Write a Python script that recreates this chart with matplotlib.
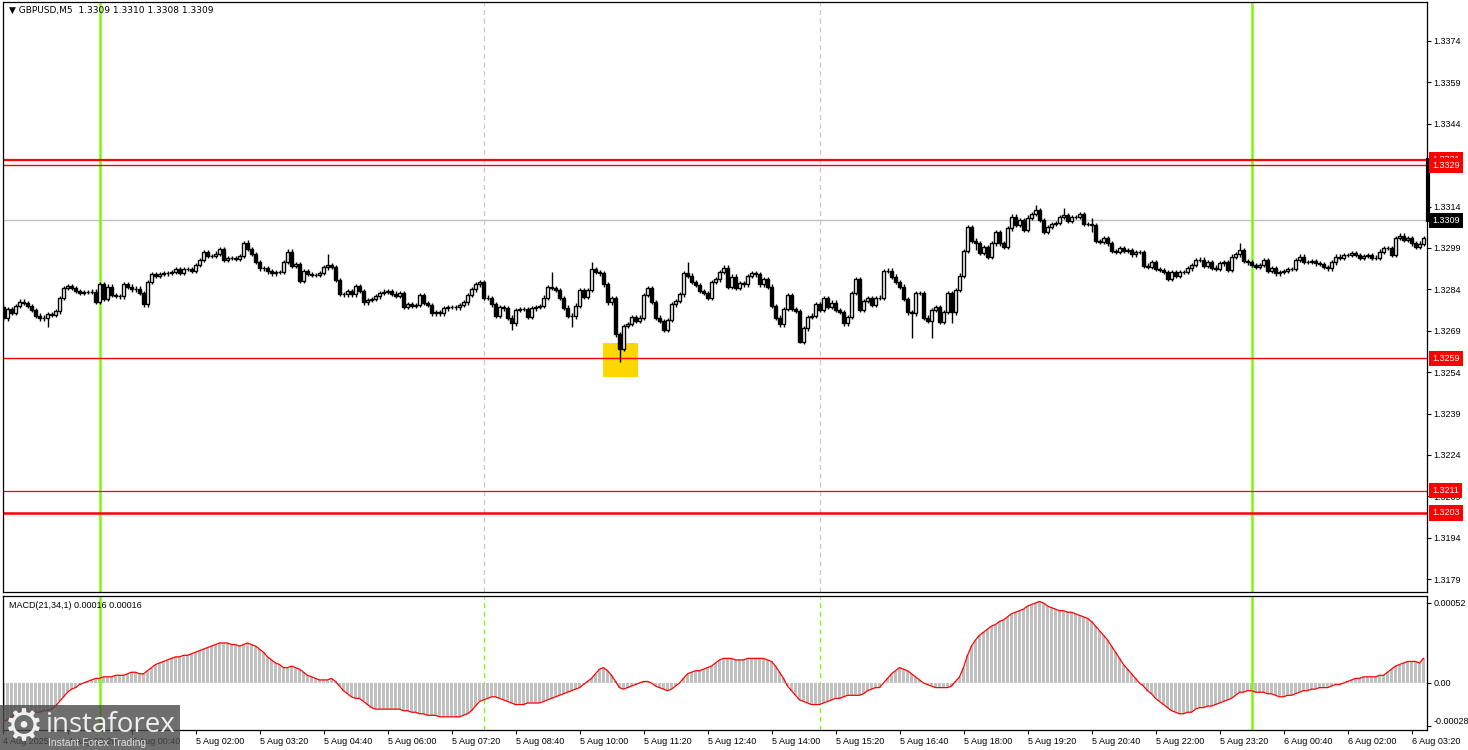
import matplotlib
matplotlib.use('Agg')
import matplotlib.pyplot as plt
import matplotlib.transforms as mtransforms
from matplotlib.patches import Rectangle
import numpy as np

######################
# data (GBPUSD M5, bars from 4 Aug 22:00), prices in pips above 1.3200
first_open = 77.8
close_pips = [
    73.5, 77, 75.5, 78, 79.6, 79, 78, 76.5, 74.5, 73.5, 73.8, 75, 74.8, 76, 80.8, 84.6,
    85.2, 84.5, 83.5, 82.8, 83, 83, 83.2, 79.5, 85.8, 80.5, 85, 82, 81.7, 81.5, 85.8, 85,
    84, 84.3, 82.6, 78.6, 86.6, 89.5, 88.8, 89.5, 89.8, 90, 90.4, 91.3, 90, 91.4, 91.4, 90.6,
    92.8, 94.6, 97.5, 96, 96, 97, 98.6, 94.6, 95.3, 95.3, 95, 96, 100.7, 98.6, 96.8, 94,
    91.6, 91.6, 90.5, 89.8, 90.3, 90.2, 94, 97.7, 92.6, 93.3, 87, 90.6, 89.5, 89.2, 89.2, 90,
    92, 92.8, 92.2, 87.5, 82.3, 82.2, 83.5, 82.2, 85.3, 83.4, 79.3, 80.2, 80.5, 81.5, 82.6, 83.2,
    83.4, 82.5, 81.7, 82.7, 77.7, 78.6, 78.1, 78.3, 82, 79, 78.3, 75.3, 75.9, 75.3, 77.1, 77.7,
    77.7, 77.5, 78.3, 79.3, 82, 84, 85.8, 86.5, 81, 80.8, 78.6, 74.5, 77.7, 77.1, 73.8, 71.7,
    76.5, 76.8, 77, 74.1, 77.1, 77.7, 78, 81, 84.7, 84.6, 83.8, 80.8, 77.4, 74.5, 74.2, 78.1,
    83.8, 81.4, 83.8, 91.4, 90.4, 89.8, 85.8, 79.3, 80.8, 67.7, 62.4, 70.7, 71.5, 74.1, 72.5, 73.8,
    82, 84.6, 79.5, 73.8, 72.5, 69.3, 72.9, 78.6, 79.8, 82.2, 89.8, 89, 86.6, 85.6, 83.5, 82.6,
    80.8, 86.6, 87.6, 90.4, 91.9, 85, 88.6, 84.6, 86.2, 85.8, 88.8, 89.8, 89.4, 85.8, 87.8, 85,
    78, 73.8, 71.3, 76.9, 82, 76.9, 76.2, 65, 69.9, 74.1, 74.5, 78.6, 76.5, 80.8, 77.7, 79.2,
    76.5, 75.9, 71.7, 74.1, 82.6, 87.8, 76.5, 79.8, 80.8, 78.3, 80.8, 81, 90.6, 90.8, 88.6, 86.6,
    85, 80.5, 75.7, 75.3, 82.6, 82.8, 73.8, 72.5, 76.5, 77.7, 72.3, 75.9, 82.6, 75.7, 83.8, 89,
    97.9, 106.5, 101.5, 100.7, 97.1, 99.3, 95.9, 100.7, 104.7, 100.7, 99.5, 106.1, 110.4, 107.3, 109, 105.5,
    110, 111.4, 112.8, 109.1, 104.9, 106.7, 107.6, 108, 110.3, 111, 108.8, 110.3, 110.3, 111.2, 107.6, 107.6,
    107.3, 101.5, 101.3, 102.5, 100.7, 97.9, 97.5, 98.9, 97.9, 98.3, 96.7, 97.5, 97.5, 92.6, 92.2, 93.8,
    91.4, 91, 90.4, 87.8, 90.2, 89, 90.4, 90.4, 91.6, 92.8, 94.6, 94.8, 92.6, 94, 91.9, 91.4,
    93.4, 93.8, 91, 95.9, 96.7, 98.3, 94.3, 93.8, 92.8, 92.2, 92.8, 94.6, 90.6, 91.6, 89.8, 90.4,
    90.6, 91.4, 91.4, 94.6, 95.9, 94, 94, 94.2, 93.4, 93.1, 92.2, 91.6, 93.8, 95.9, 95.4, 96.5,
    96.5, 97.1, 96.5, 95.3, 96.2, 96.5, 95.5, 95.5, 97.7, 98.9, 98.9, 96.5, 102.7, 103.5, 101.9, 102.5,
    100.7, 99.5, 100.6, 102.5,
]
# long shadows (bar: pips)
high_pips = {61: 101.9, 81: 96.7, 137: 90.4, 147: 94.0, 171: 94.0, 243: 102.5,
             258: 114.6, 265: 113.4, 272: 109.7, 309: 100.7}
low_pips = {11: 70.5, 127: 69.3, 142: 70.5, 154: 57.6, 199: 64.5, 227: 66.5,
            232: 66.5, 237: 71.7, 243: 98.3, 272: 104.9}

# MACD(21,34,1) in units of 1e-5
macd_pts = [
    -25, -24, -22, -20, -19, -19, -19, -19, -19, -19, -18, -18, -17, -15, -12, -9,
    -6, -4, -3, -1, 0, 1, 2, 3, 3, 4, 4, 4, 5, 5, 5, 6,
    7, 7, 6, 6, 8, 10, 12, 13, 14, 15, 16, 17, 17, 18, 18, 19,
    20, 21, 22, 23, 24, 25, 26, 26, 26, 25, 25, 24, 25, 26, 25, 24,
    22, 20, 17, 15, 13, 12, 10, 10, 11, 10, 9, 7, 5, 4, 3, 2,
    2, 2, 3, 1, -2, -5, -7, -9, -10, -10, -12, -14, -16, -17, -17, -17,
    -17, -17, -17, -17, -18, -18, -19, -19, -20, -20, -21, -21, -21, -22, -22, -22,
    -22, -22, -22, -21, -20, -18, -15, -12, -11, -10, -9, -9, -10, -11, -12, -13,
    -14, -14, -14, -13, -13, -13, -13, -12, -11, -10, -9, -8, -7, -6, -5, -4,
    -3, -1, 1, 3, 6, 9, 10, 8, 5, 1, -3, -4, -3, -2, -1, 0,
    1, 1, 0, -2, -3, -4, -5, -4, -2, 0, 3, 6, 7, 8, 8, 9,
    10, 11, 13, 15, 16, 16, 16, 15, 15, 15, 16, 16, 16, 16, 16, 15,
    14, 11, 7, 3, -2, -5, -8, -11, -12, -13, -14, -14, -14, -13, -12, -11,
    -10, -10, -9, -8, -8, -8, -8, -7, -5, -4, -3, -3, 0, 3, 6, 8,
    10, 9, 8, 6, 4, 2, 0, -1, -2, -3, -3, -3, -3, -2, 1, 4,
    10, 18, 24, 28, 31, 33, 35, 37, 38, 40, 41, 43, 45, 46, 47, 48,
    50, 51, 52, 53, 52, 50, 49, 48, 47, 47, 46, 46, 45, 44, 43, 42,
    40, 37, 34, 31, 28, 24, 20, 16, 12, 9, 6, 3, 0, -2, -5, -7,
    -10, -12, -14, -16, -18, -19, -20, -20, -19, -19, -17, -16, -16, -15, -15, -14,
    -13, -12, -11, -10, -8, -6, -6, -5, -5, -6, -6, -6, -7, -7, -8, -9,
    -9, -8, -8, -7, -6, -5, -5, -4, -4, -3, -3, -3, -2, -1, -1, 0,
    1, 2, 3, 3, 4, 4, 4, 4, 5, 5, 7, 9, 11, 12, 13, 14,
    14, 14, 13, 16,
]

price_ticks = [1.3179, 1.3194, 1.3209, 1.3224, 1.3239, 1.3254, 1.3269, 1.3284,
               1.3299, 1.3314, 1.3329, 1.3344, 1.3359, 1.3374]
time_labels = ["4 Aug 2025", "4 Aug 23:20", "5 Aug 00:40", "5 Aug 02:00", "5 Aug 03:20",
               "5 Aug 04:40", "5 Aug 06:00", "5 Aug 07:20", "5 Aug 08:40", "5 Aug 10:00",
               "5 Aug 11:20", "5 Aug 12:40", "5 Aug 14:00", "5 Aug 15:20", "5 Aug 16:40",
               "5 Aug 18:00", "5 Aug 19:20", "5 Aug 20:40", "5 Aug 22:00", "5 Aug 23:20",
               "6 Aug 00:40", "6 Aug 02:00", "6 Aug 03:20"]
levels = [1.3331, 1.3329, 1.3259, 1.3211, 1.3203]
bid = 1.3309
day_bars = [24, 312]        # midnight separators
session_bars = [120, 204]   # dashed markers
zone_bars = [149.9, 158.6]  # highlighted area
zone_prices = [1.32523, 1.32646]

######################
n = len(close_pips)
idx = np.arange(n)
c = 1.32 + np.array(close_pips) / 1e4
o = np.concatenate([[1.32 + first_open / 1e4], c[:-1]])
hi = np.maximum(o, c) + 0.00008
lo = np.minimum(o, c) - 0.00008
for k, v in high_pips.items():
    hi[k] = 1.32 + v / 1e4
for k, v in low_pips.items():
    lo[k] = 1.32 + v / 1e4
up = c >= o
macd = np.array(macd_pts) * 1e-5

plt.rcParams['font.family'] = ['Liberation Sans', 'DejaVu Sans']
fs = 6.5
fig = plt.figure(figsize=(14.68, 7.5), dpi=100)
ax = fig.add_axes([3 / 1468, 158 / 750, 1424 / 1468, 590 / 750])
ax2 = fig.add_axes([3 / 1468, 20 / 750, 1424 / 1468, 134 / 750])

xl = (-0.125, 355.875)

#main price panel
ax.set_xlim(xl)
ax.set_ylim(1.317436, 1.338813)
ax.add_patch(Rectangle((zone_bars[0], zone_prices[0]), zone_bars[1] - zone_bars[0],
                       zone_prices[1] - zone_prices[0], facecolor='#FFD700', edgecolor='none', zorder=1))
for b in day_bars:
    ax.axvline(b, color='#7CFC00', lw=1.8, zorder=2)
    ax2.axvline(b, color='#7CFC00', lw=1.8, zorder=2)
for b in session_bars:
    ax.axvline(b, color='#C8C8C8', lw=0.9, ls=(0, (4, 3)), zorder=0.5)
    ax2.axvline(b, color='#7CFC00', lw=0.9, ls=(0, (4, 3)), zorder=0.5)
ax.axhline(bid, color='#C0C0C0', lw=1, zorder=1)
lws = [1.6, 1.0, 1.0, 0.9, 1.8]
for lev, lw in zip(levels, lws):
    ax.axhline(lev, color='red', lw=lw, zorder=2)

ax.vlines(idx, lo, hi, color='black', lw=1.0, zorder=3)
ax.bar(idx[up], (c - o)[up], bottom=o[up], width=0.68, facecolor='white',
       edgecolor='black', lw=1.0, zorder=4)
ax.bar(idx[~up], (o - c)[~up], bottom=c[~up], width=0.68, facecolor='black',
       edgecolor='black', lw=1.0, zorder=4)

ax.set_yticks(price_ticks)
ax.set_yticklabels(['%.4f' % p for p in price_ticks])
ax.set_xticks([])
ax.yaxis.tick_right()
ax.tick_params(axis='y', length=3, width=0.8, pad=1.5, labelsize=fs, colors='black')
for s in ax.spines.values():
    s.set_linewidth(0.9)

# price tags on the scale
tr = mtransforms.blended_transform_factory(ax.transAxes, ax.transData)
for lev in levels:
    ax.text(1.0035, lev, '%.4f' % lev, transform=tr, ha='left', va='center', fontsize=fs,
            color='white', bbox=dict(facecolor='red', edgecolor='none', pad=2.2), zorder=6)
ax.text(1.0035, bid, '%.4f' % bid, transform=tr, ha='left', va='center', fontsize=fs,
        color='white', bbox=dict(facecolor='black', edgecolor='none', pad=2.2), zorder=6)
ax.plot([1.0005, 1.0005], [bid, levels[0]], transform=tr, color='black', lw=3,
        clip_on=False, zorder=5)

ax.text(0.004, 0.985, '\u25BC GBPUSD,M5  1.3309 1.3310 1.3308 1.3309', transform=ax.transAxes,
        ha='left', va='center', fontsize=fs, family=['DejaVu Sans'])

#MACD panel
ax2.set_xlim(xl)
ax2.set_ylim(-0.0003055, 0.0005655)
ax2.bar(idx, macd, width=0.55, color='#C0C0C0', zorder=1)
ax2.plot(idx, macd, color='red', lw=0.9, zorder=3)
ax2.set_yticks([0.00052, 0.0, -0.00028])
ax2.set_yticklabels(['0.00052', '0.00', '-0.00028'])
ax2.yaxis.tick_right()
ax2.tick_params(axis='y', length=3, width=0.8, pad=1.5, labelsize=fs)
ax2.get_yticklabels()[2].set_va('bottom')
ax2.set_xticks(np.arange(0, n, 16))
ax2.set_xticklabels(time_labels, ha='left', fontsize=fs)
ax2.tick_params(axis='x', length=3, width=0.8, pad=2)
for s in ax2.spines.values():
    s.set_linewidth(0.9)
ax2.text(0.004, 0.93, 'MACD(21,34,1) 0.00016 0.00016', transform=ax2.transAxes,
         ha='left', va='center', fontsize=fs)

# watermark
fig.patches.append(Rectangle((0, 0), 180 / 1468, 45 / 750, transform=fig.transFigure,
                             facecolor='#4A4A4A', alpha=0.8, edgecolor='none', zorder=10))
fig.text(24 / 1468, 23 / 750, '\u2699', fontsize=32, color='white', alpha=0.9,
         ha='center', va='center', family=['DejaVu Sans'], zorder=11)
fig.text(46 / 1468, 25 / 750, 'instaforex', fontsize=20, color='white', alpha=0.9,
         ha='left', va='center', family=['Open Sans', 'DejaVu Sans'], zorder=11)
fig.text(48 / 1468, 7 / 750, 'Instant Forex Trading', fontsize=7.5, color='#DDDDDD',
         ha='left', va='center', zorder=11)

plt.savefig('out.png', dpi=100)
